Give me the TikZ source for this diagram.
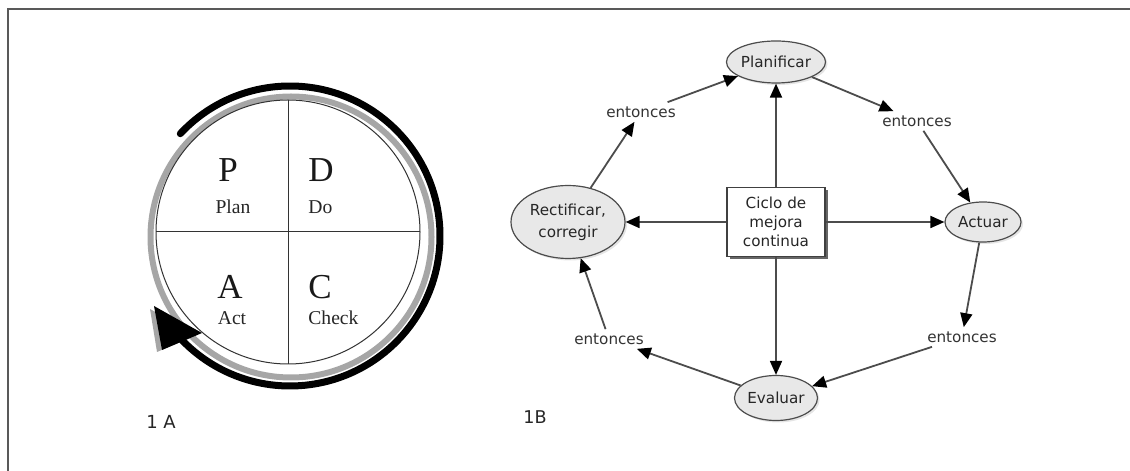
\documentclass[tikz,border=0pt]{standalone}
\usepackage{fontspec}
\setmainfont{Liberation Serif}
\newfontfamily\dejavu{DejaVu Sans}
\usepackage{tikz}
\usetikzlibrary{arrows.meta, positioning, shapes.geometric, shadows}

\newcommand{\fuenteB}{\dejavu\fontsize{7.6}{9.5}\selectfont}

\tikzset{
  elipse/.style={ellipse, draw=black!70, fill=black!9, line width=0.6pt, inner sep=0pt,
    text=black!85, font=\fuenteB, drop shadow={shadow xshift=1pt, shadow yshift=-1pt, fill=black!20}},
  caja/.style={rectangle, draw=black!75, fill=white, line width=0.7pt, align=center,
    minimum width=49pt, minimum height=34.5pt, inner sep=0pt, text=black!85, font=\fuenteB,
    drop shadow={shadow xshift=1.5pt, shadow yshift=-1.5pt, fill=black!60, opacity=1}},
  etiq/.style={font=\fuenteB, text=black!80, inner sep=2pt},
  flecha/.style={draw=black!70, line width=0.9pt, -{Triangle[length=7pt, width=6pt, color=black]}},
  letra/.style={inner sep=0pt, text=black!90, font=\fontsize{17.5}{17.5}\selectfont},
  palabra/.style={inner sep=0pt, text=black!85, font=\fontsize{9.8}{10}\selectfont},
}

\begin{document}
\begin{tikzpicture}[x=0.5pt, y=0.5pt, on grid]
  \useasboundingbox (0,0) rectangle (1130,471);
  % marco
  \draw[black!65, line width=1.2pt] (8,0) -- (8,462) -- (1130,462);

  % 1A: ciclo PDCA
  \coordinate (pdca) at (288,239);
  \draw[black!35, line width=3pt] (291,234) circle[radius=70.25pt];
  \fill[black!35] (150,162) -- (157,119) -- (197,136) -- cycle;
  \draw[line width=3.5pt, line cap=round] (290,235) ++(137:75pt) arc[start angle=137, end angle=-136, radius=75pt];
  \fill (154,165) -- (162,121) -- (202,138) -- cycle;
  \draw[black!80, line width=0.5pt, fill=white] (pdca) circle[radius=66pt];
  \draw[black!80, line width=0.5pt] ([xshift=-66pt]pdca) -- ([xshift=66pt]pdca)
    ([yshift=66pt]pdca) -- ([yshift=-66pt]pdca);
  \node (letP) [letra] at (228,301) {P};
  \node (palP) [palabra] at (233,264) {Plan};
  \node (letD) [letra, anchor=west] at (308,301) {D};
  \node (palD) [palabra, anchor=west] at (308,264) {Do};
  \node (letA) [letra] at (230,184) {A};
  \node (palA) [palabra] at (232,153) {Act};
  \node (letC) [letra, anchor=west] at (308,184) {C};
  \node (palC) [palabra, anchor=west] at (308,153) {Check};
  \node (rotA) [font=\dejavu\fontsize{9}{9}\selectfont, text=black!85] at (161,49) {1 A};

  % 1B: ciclo de mejora continua
  \node (ciclo) [caja] at (776,249) {Ciclo de\\mejora\\continua};
  \node (plan) [elipse, above=80pt of ciclo, minimum width=46pt, minimum height=21pt] {Planificar};
  \node (actuar) [elipse, right=103.5pt of ciclo, minimum width=38pt, minimum height=20pt] {Actuar};
  \node (eval) [elipse, below=88pt of ciclo, minimum width=41.5pt, minimum height=22.5pt] {Evaluar};
  \node (rect) [elipse, left=104pt of ciclo, minimum width=57pt, minimum height=36.5pt,
    align=center, font=\dejavu\fontsize{7.6}{11}\selectfont] {Rectificar,\\corregir};
  \node (entTL) [etiq, above left=55pt and 67.5pt of ciclo] {entonces};
  \node (entTR) [etiq, above right=50.5pt and 70.5pt of ciclo] {entonces};
  \node (entBL) [etiq, below left=58.5pt and 83.5pt of ciclo] {entonces};
  \node (entBR) [etiq, below right=57.5pt and 93pt of ciclo] {entonces};
  \node (rotB) [font=\dejavu\fontsize{8.8}{8.8}\selectfont, text=black!85] at (535,54) {1B};

  \path[flecha]
    (rect) edge (entTL)
    (entTL) edge (plan)
    (plan) edge (entTR)
    (entTR) edge (actuar)
    (actuar) edge (entBR)
    (entBR) edge (eval)
    (eval) edge (entBL)
    (entBL) edge (rect)
    (ciclo) edge (plan)
    (ciclo) edge (actuar)
    (ciclo) edge (eval)
    (ciclo) edge (rect)
    ;
\end{tikzpicture}
\end{document}
